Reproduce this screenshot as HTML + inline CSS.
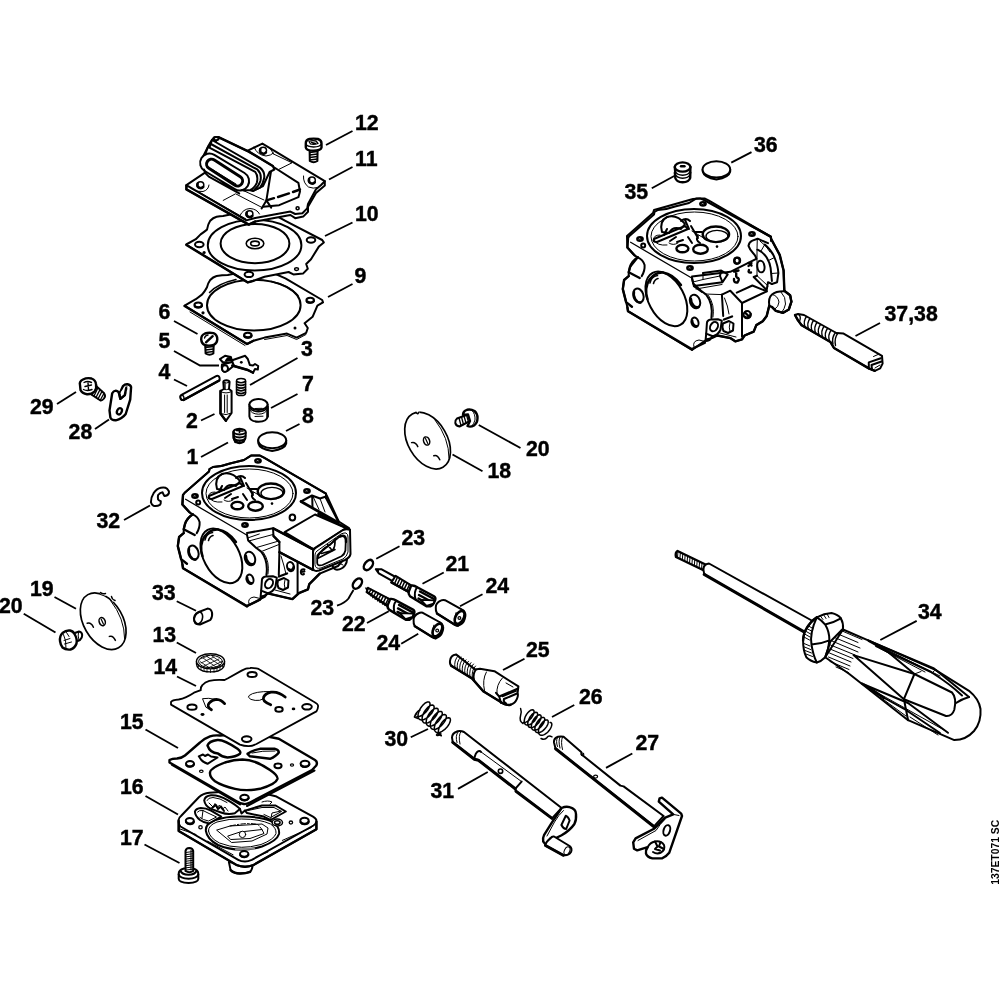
<!DOCTYPE html>
<html>
<head>
<meta charset="utf-8">
<title>Carburetor exploded view</title>
<style>
html,body{margin:0;padding:0;background:#fff;}
body{width:1000px;height:1000px;overflow:hidden;font-family:"Liberation Sans",sans-serif;}
svg{display:block;will-change:transform;}
.lb text{font-family:"Liberation Sans",sans-serif;font-weight:bold;font-size:22.4px;fill:#000;stroke:#000;stroke-width:.45px;}
.ld{stroke:#000;stroke-width:1.9;fill:none;stroke-linecap:butt;}
.p{stroke:#000;stroke-width:2;fill:#fff;stroke-linejoin:round;stroke-linecap:round;}
.n{stroke:#000;stroke-width:2;fill:none;stroke-linejoin:round;stroke-linecap:round;}
.t{stroke:#000;stroke-width:1;fill:none;stroke-linejoin:round;stroke-linecap:round;}
.tp{stroke:#000;stroke-width:1;fill:#fff;stroke-linejoin:round;stroke-linecap:round;}
.k{stroke:#000;stroke-width:2.4;fill:none;stroke-linejoin:round;stroke-linecap:round;}
.kp{stroke:#000;stroke-width:2.4;fill:#fff;stroke-linejoin:round;stroke-linecap:round;}
.b{fill:#000;stroke:none;}
.w{fill:#fff;stroke:none;}
</style>
</head>
<body>
<svg width="1000" height="1000" viewBox="0 0 1000 1000">
<rect x="0" y="0" width="1000" height="1000" fill="#fff"/>
<g id="a09">
<!-- part 9 gasket -->
<path class="p" d="M184.6 305.6L195.8 299.2L202.2 294.4Q205 291 207 287.2Q208 283 210.2 280Q213 277 216.6 276Q222 275 227.8 274.9L262 268L285.4 278.4L322.2 300L323 302.4L317.4 305.6L312.6 316.8L304.6 323.2L307.8 328L306.2 332.8L296.6 337.6L287 333.6L264.6 337.6L253.4 340.8L247 344Z"/>
<path class="k" d="M184.6 306L247 344L253.4 340.8"/>
<path class="t" d="M190 312L245 345.5M264.6 339.5L287 335.5L296.6 339.5L306 334.5M317.4 305.6L322 303"/>
<ellipse class="p" cx="253.8" cy="305.2" rx="46.8" ry="25.4"/>
<path class="n" style="stroke-width:1.5" d="M209.5 292.5Q218 283.5 236 279.5"/>
<path class="n" style="stroke-width:1.5" d="M271 281.5Q289 285 298 295.5"/>
<ellipse class="p" cx="198.2" cy="305.1" rx="3.8" ry="2.5"/><path class="k" d="M195 306.2A3.8 2.5 0 0 0 201.8 305.8"/>
<ellipse class="p" cx="310.2" cy="300.3" rx="3.8" ry="2.5"/><path class="k" d="M307 301.4A3.8 2.5 0 0 0 313.8 301"/>
<ellipse class="p" cx="247.8" cy="335.2" rx="3.8" ry="2.5"/><path class="k" d="M244.6 336.3A3.8 2.5 0 0 0 251.4 335.9"/>
<circle class="b" cx="203" cy="312.8" r="1.6"/>
<circle class="b" cx="295" cy="328" r="1.5"/>
</g>
<g id="a10">
<!-- part 10 diaphragm -->
<path class="p" d="M186.2 244.5L195.8 239.2L200.6 234.4Q204 232 207 229.6Q208 224 210.2 220.8Q213 217.8 216.6 216.8Q220 216 223 216L262 208L285.4 220.8L322.2 240L323.8 242.4L319 246.4L311 259.2L306.2 264L307.8 268.8L303 273.6L293.4 274.4L288.6 272L264.6 276.8L253.4 280.8L247.8 282.4Z"/>
<path class="k" d="M186.4 245L247.8 282.4L253.4 280.8"/>
<ellipse class="p" cx="254.6" cy="245.2" rx="46.8" ry="25.4"/>
<ellipse class="p" cx="255" cy="243.6" rx="34.4" ry="19.6"/>
<ellipse class="p" style="stroke-width:1.6" cx="255" cy="243.5" rx="8.8" ry="5.3"/>
<ellipse class="p" style="stroke-width:1.6" cx="255" cy="243.5" rx="4.3" ry="2.4"/>
<ellipse class="p" cx="199.3" cy="244.5" rx="4.3" ry="2.7"/>
<ellipse class="p" cx="311" cy="240" rx="4.3" ry="2.7"/>
<ellipse class="p" cx="248.9" cy="274.4" rx="4.3" ry="2.7"/>
<circle class="b" cx="204.1" cy="252.5" r="1.6"/>
<ellipse class="n" style="stroke-width:1.4" cx="296.6" cy="269.1" rx="2" ry="1.4"/>
</g>
<g id="a11">
<!-- part 11 pump cover -->
<!-- plate side (thickness) -->
<path class="p" d="M186.4 185.2L186.4 189.4L248.8 224.6L255.5 221.4L290.4 215L295.2 218.2L303.2 216.6L308 211.8L308 206.8L316 193L324.8 185.4L324.8 181.2Z"/>
<!-- plate top face -->
<path class="p" d="M186.4 185.2L205 172.6L248.8 150.2L262.4 143.6L324.8 181.2L320.8 185.2L316 189.2L308 204L307.2 208.4L302.4 213.2L295.2 214L290.4 211.6L255.2 218L246.4 220.4Z"/>
<path class="k" d="M186.4 185.6L186.4 189.4L248.8 224.6L255.5 221.4"/>
<!-- thin contour lines -->
<path class="t" d="M200.8 193.2L246 219M223.2 200.4L235.2 194M236 194L262 207.5"/>
<path class="t" d="M273.6 154L292 162.8L279.2 169.2M269.6 147.6L273.6 154"/>
<!-- raised centre -->
<path class="n" d="M272.8 166.5L298.4 182.8L300 191.6L298.4 197.2L279.2 205.2L263.2 206.8"/>
<path class="n" d="M271.2 170L266.4 200.4M266.4 200.4L261.6 208.4M266.4 200.4L271.2 207.6"/>
<path class="k" d="M266.4 200.4L274 198.2M278 197L289 193.4M293 192L300 189.5" />
<!-- bellows ribs (back to front) -->
<path class="p" d="M218.4 137.2L248.8 151.6L272.8 166L274.4 169.5L269.6 172L263 186L253 191L230 185L205 160Z"/>
<path class="k" d="M214.4 137.7L218.4 137.2L248.8 151.6L272.8 166"/>
<ellipse class="p" cx="216" cy="138.6" rx="2.6" ry="1.6"/>
<path class="p" d="M212 140L260 167.6Q265.5 172 264 178.8Q263 184 260 187.6L253.6 190.5L230 185L206 158Z"/>
<path class="p" d="M208 146.8L255.2 171.9Q258.5 176 256.8 182.8Q254.5 188 250.4 190L244 190.5L225 185L203 160Z"/>
<path class="n" d="M210 143.5L257.6 169.7Q262 174 260.4 181Q258.5 186.5 255 189"/>
<path class="n" d="M202.6 157.4L208 146.6L212 139.8L214.4 137.7"/>
<!-- front lip -->
<rect class="p" x="-27" y="-9.4" width="54" height="18.8" rx="9.4" transform="translate(224.6 172) rotate(31)"/>
<rect class="p" style="stroke-width:3" x="-20.5" y="-5" width="41" height="10" rx="5" transform="translate(224.6 172.6) rotate(33)"/>
<path class="t" d="M213 170L236 184"/>
<!-- pump base under lip -->
<path class="n" d="M204 169.5L205.6 173.4L208.8 176.6L239.2 193.4"/>
<path class="t" d="M241 189.5L264 200"/>
<!-- holes -->
<circle class="n" style="stroke-width:1.5" cx="200.5" cy="185" r="3.3"/><path class="k" style="stroke-width:2.6" d="M197.6 183.6A3.3 3.3 0 0 0 203.2 186.9"/>
<circle class="n" style="stroke-width:1.5" cx="263.2" cy="150.6" r="3.3"/><path class="k" style="stroke-width:2.6" d="M260.3 149.2A3.3 3.3 0 0 0 265.9 152.5"/>
<circle class="n" style="stroke-width:1.5" cx="312" cy="180.4" r="3.3"/><path class="k" style="stroke-width:2.6" d="M309.1 179A3.3 3.3 0 0 0 314.7 182.3"/>
<circle class="n" style="stroke-width:1.5" cx="249.6" cy="214" r="3.3"/><path class="k" style="stroke-width:2.6" d="M246.7 212.6A3.3 3.3 0 0 0 252.3 215.9"/>
<circle class="n" style="stroke-width:1.6" cx="297.6" cy="208.2" r="1.5"/>
<path class="t" d="M191 188.5Q196 192.5 203 191.5Q208.5 190 209 185M240 215.5Q243 209 250 208.5Q257 209 259.5 214M303.5 176Q303 183 308.5 187Q313 189 318 187.5M254 147Q257 155 266 156Q271 155.5 273.5 153"/>
</g>
<g id="b_body">
<!-- rear/right lower body silhouette -->
<path class="p" d="M247 606L259.9 599.7L267.7 593.4L292.4 599.1L298.9 593.2L308 589.3L309.3 584.1L319.7 573.7L338 566L350 552L349 528L338 521L326 498L326 493.6L264 457.6L260 455.6L251 455.6L244 460Q238 461.5 230 463.5Q222 466.5 213 467L209.5 469L209 471.5L185 492.4L183 495L182.4 504.5L189.5 512.3L192.8 514.3Q187 518 185 524L183.7 529.2L183.7 533.1L179.1 537L177.8 546.1L181.1 559.1L182.4 564.3L183 568.2Z"/>
<g id="bc">
<!-- top flange outline (common) -->
<path class="n" d="M183 495L185 492.4L209 471.5L209.5 469L213 467Q222 466.5 230 463.5Q238 461.5 244 460L251 455.6L260 455.6L264 457.6L326 493.6L326 498"/>
<path class="n" style="stroke-width:1.3" d="M185.6 499.3L246.7 535"/>
<!-- chamber ellipses -->
<ellipse class="p" cx="249" cy="493" rx="47" ry="27"/>
<ellipse class="tp" cx="249.5" cy="493.5" rx="43.5" ry="24.5"/>
<!-- chamber details -->
<ellipse class="kp" cx="270.9" cy="491.3" rx="13.2" ry="7.8"/>
<ellipse class="t" style="stroke-width:1.4" cx="272" cy="493.2" rx="11" ry="5.8"/>
<ellipse class="kp" cx="237.4" cy="505.6" rx="6" ry="3.7"/>
<ellipse class="kp" cx="255.5" cy="506.2" rx="7.3" ry="4.5"/>
<circle class="b" cx="272" cy="503.6" r="1.3"/>
<path class="n" d="M217 489Q214 478 222 474Q232 471 240 481L236 486Q228 483 224 490Z"/>
<path class="n" d="M209 496L240 483M212 499L243 486M209 496Q207 499 212 499M240 483L243 486"/>
<path class="n" d="M240 477L244 486M236 478Q241 474 245 478M246 483L253 495M250 489L257 489M222 486L219 492M225 498L231 494M232 499L238 497M243 494L247 500M253 493Q250 497 255 500"/>
<path class="t" d="M215 492Q208 492 209 497Q212 503 222 502M224 500Q228 503 233 500M247 488L262 497"/>
<!-- screw holes on flange -->
<ellipse class="b" cx="195" cy="496" rx="3.9" ry="2.9"/><path d="M193.7 496.2q.9 -.9 1.8 -.1" stroke="#fff" stroke-width=".7" fill="none"/>
<ellipse class="b" cx="258" cy="460.8" rx="3.9" ry="2.9"/><path d="M256.7 461.0q.9 -.9 1.8 -.1" stroke="#fff" stroke-width=".7" fill="none"/>
<ellipse class="b" cx="307" cy="491" rx="3.9" ry="2.9"/><path d="M305.7 491.2q.9 -.9 1.8 -.1" stroke="#fff" stroke-width=".7" fill="none"/>
<ellipse class="b" cx="245" cy="525" rx="3.9" ry="2.9"/><path d="M243.7 525.2q.9 -.9 1.8 -.1" stroke="#fff" stroke-width=".7" fill="none"/>
<ellipse class="n" cx="292.4" cy="517.6" rx="2.8" ry="3"/>
<circle class="n" cx="198.2" cy="502.6" r="2"/>
<!-- front face bore -->
<path class="k" d="M183 495L182.4 504.5L189.5 512.3M192.8 514.3Q187 518 185 524L183.7 529.2L194.7 535M183.7 533.1L179.1 537L177.8 546.1L181.1 559.1L186.9 563.7M182.4 564.3L183 568.2L247 606.4"/>
<path class="n" d="M192.8 514.3Q198 516.5 199.6 522Q200 528 196.7 533.1"/>
<ellipse class="p" cx="0" cy="0" rx="29.5" ry="17.8" transform="translate(221.4 555.9) rotate(62)"/>
<path class="k" d="M202.5 556Q199 545 204.5 536.5Q210 529 218 529.5Q228 531 236 542"/>
<path class="n" style="stroke-width:1.6" d="M205 540Q206 533.5 212.5 532.5M208.5 540.5Q209.5 536.5 213 535.5"/>
<ellipse class="p" cx="193.4" cy="552.6" rx="5" ry="7.2" transform="rotate(-18 193.4 552.6)"/><path class="k" d="M189 549A5 7.2 -18 0 0 195.5 559.5"/>
<ellipse class="p" cx="250" cy="558.5" rx="5" ry="7" transform="rotate(-18 250 558.5)"/><path class="k" d="M246 556A5 7 -18 0 0 253.5 564"/>
<ellipse class="p" cx="250" cy="579.3" rx="3.4" ry="4.8" transform="rotate(-18 250 579.3)"/><path class="k" d="M247.2 577.5A3.4 4.8 -18 0 0 252 583.2"/>
<!-- right-front common details -->
<path class="n" d="M247 534.7L248.2 540.6L256 547.7L261.2 551.6Q268.5 561 266.4 575"/>
<path class="t" d="M263.5 552.5Q270 562 268 574"/>
<!-- lug -->
<path class="p" d="M261.9 580.2Q262 577 266 576.5L272.9 576.3L276.8 577.6L275.5 586.7Q273 592 267.7 593.2L261.2 590.6Z"/>
<ellipse class="p" cx="269" cy="583.6" rx="3.6" ry="5" transform="rotate(30 269 583.6)"/>
<path class="n" d="M261.2 590.6L260.5 598L264.5 597L267.7 593.2"/>
<path class="b" d="M261 595.5L265 594.5L264.5 598L260.7 599Z"/>
<!-- pin -->
<path class="p" d="M278 580.5L284 578L288.5 580.5L288 587.5L283 590L278.5 588Q276.5 584 278 580.5Z"/>
<path class="t" d="M285 579.5Q283.5 584 285 589"/>
<path class="k" d="M279 576.5L287 573.5"/>
<path class="k" d="M247 606L259.9 599.7"/>
<path class="t" d="M249 604Q247 598 254 597L260 598.5"/>
</g>
<!-- triangular pocket & box -->
<path class="n" d="M301 501.5L312 495.5L320 498.5L326 496.5M312.2 496L312.5 507.5"/>
<path class="t" d="M320 498.5L325 512M313 496.5L319 509.5"/>
<path class="k" style="stroke-width:2.8" d="M301 501.5L338 522.5"/>
<path class="n" d="M326.5 495L338.5 521"/>
<path class="p" d="M284.6 532.1L315 514.5L346 528L313.2 549Z"/>
<path class="t" d="M284 534.5L312 551"/>
<path class="p" d="M273 528.2L273.5 536L279.4 542L279.4 552L313.2 570L313.2 549.5Z"/>
<path class="k" d="M273.2 528.4L313.2 549.4M279.4 552.3L313.2 570M273.5 536L279.4 542"/>
<path class="k" d="M318.4 513.9L349.6 529.5"/>
<path class="n" d="M332.5 565.5Q333.5 569.5 337 569.8Q342 569.5 345 565.5Q347 562.5 347 559.5"/>
<path class="t" d="M340 563.5L343 565"/>
<path class="p" d="M313 552Q313 549.5 315.5 548L343 530Q346.5 528.5 350 529.8L350.5 554Q350 557.5 345 560L319 570.5Q313.5 572 313 568Z"/>
<path class="tp" d="M315 554.5Q315 552.5 317 551L341 534Q344.5 532.5 346 533Q348 534 348 537L348 552Q347 556.5 343 559L321 568Q315.5 569.5 315 565Z"/>
<path class="n" style="stroke-width:1.8" d="M317.2 557.5Q317 555 319 553.5L339 537Q342.5 535.5 344.5 536.8Q345.8 538 345.8 540.5L345.4 550.5Q344.5 554.5 341.5 556.3L322.5 565Q317.5 566.5 317.2 563Z"/>
<path class="k" d="M339.5 536.6Q343 535 345 536.6Q346.3 538.2 346 542"/>
<path class="n" style="stroke-width:1.6" d="M318 556.5Q321 549 330 545L336 538.5M321.5 553.5L332 550.5M327.5 544.5L332.5 551Q335.5 546 335 540.5M317.5 558.5L335 549.5"/>
<!-- right-front main-specific -->
<path class="n" d="M247 533L272 528.5"/>
<path class="t" d="M248.2 537.8L259.3 534M248.8 541L273 534.5M256 547.7L278.1 541.2M261.2 551.6L279 544.5"/>
<path class="n" d="M279.4 552.3L278.8 575M297.6 562L297.6 593.2"/>
<path class="t" d="M281 556Q284 565 286 574"/>
<ellipse class="p" cx="290.5" cy="566.6" rx="3.4" ry="4.6" transform="rotate(-15 290.5 566.6)"/><path class="k" d="M288.5 569A3.4 4.6 -15 0 0 293.6 567"/>
<path class="n" d="M304.5 569.5Q301 568.5 300.8 572Q301 575.5 304 574M301 572L304.5 571.5"/>
<path class="k" d="M267.7 593.4L292.4 599.1L298.9 593.2L308 589.3L309.3 584.1L319.7 573.7"/>
<path class="t" d="M275 590L290 594"/>
</g>
<g id="c_body2">
<!-- second body silhouette -->
<path class="p" d="M692 350L706 340L712.1 338.1L717.3 335.5L730.3 338.1L735.5 341.4L742 339.4L744.6 335.5L753.7 331.6L756.3 325.1L762.8 321.2L766.7 316L769.3 305.6L771.9 306.9L775.8 310.8L783 312.8L788.8 309.5L791.4 301.7L790.1 295.2L784.9 291.3L784.3 290L783.6 270.5L779.7 254.9L771.3 239.3L770.6 236.7L704 200L700 198.4L693 199L654 210L653 213L627 236L627.4 247.5L634.5 255.3L637.8 257.3L630.0 267.0L628.7 272.2L628.7 276.1L624.1 280.0L622.8 289.1L626.1 302.1L627.4 307.3L628.0 311.2Z"/>
<g transform="translate(445 -257)">
<!-- top flange outline (common) -->
<path class="n" d="M183 495L185 492.4L209 471.5L209.5 469L213 467Q222 466.5 230 463.5Q238 461.5 244 460L251 455.6L260 455.6L264 457.6L326 493.6L326 498"/>
<path class="n" style="stroke-width:1.3" d="M185.6 499.3L246.7 535"/>
<!-- chamber ellipses -->
<ellipse class="p" cx="249" cy="493" rx="47" ry="27"/>
<ellipse class="tp" cx="249.5" cy="493.5" rx="43.5" ry="24.5"/>
<!-- chamber details -->
<ellipse class="kp" cx="270.9" cy="491.3" rx="13.2" ry="7.8"/>
<ellipse class="t" style="stroke-width:1.4" cx="272" cy="493.2" rx="11" ry="5.8"/>
<ellipse class="kp" cx="237.4" cy="505.6" rx="6" ry="3.7"/>
<ellipse class="kp" cx="255.5" cy="506.2" rx="7.3" ry="4.5"/>
<circle class="b" cx="272" cy="503.6" r="1.3"/>
<path class="n" d="M217 489Q214 478 222 474Q232 471 240 481L236 486Q228 483 224 490Z"/>
<path class="n" d="M209 496L240 483M212 499L243 486M209 496Q207 499 212 499M240 483L243 486"/>
<path class="n" d="M240 477L244 486M236 478Q241 474 245 478M246 483L253 495M250 489L257 489M222 486L219 492M225 498L231 494M232 499L238 497M243 494L247 500M253 493Q250 497 255 500"/>
<path class="t" d="M215 492Q208 492 209 497Q212 503 222 502M224 500Q228 503 233 500M247 488L262 497"/>
<!-- screw holes on flange -->
<ellipse class="b" cx="195" cy="496" rx="3.9" ry="2.9"/><path d="M193.7 496.2q.9 -.9 1.8 -.1" stroke="#fff" stroke-width=".7" fill="none"/>
<ellipse class="b" cx="258" cy="460.8" rx="3.9" ry="2.9"/><path d="M256.7 461.0q.9 -.9 1.8 -.1" stroke="#fff" stroke-width=".7" fill="none"/>
<ellipse class="b" cx="307" cy="491" rx="3.9" ry="2.9"/><path d="M305.7 491.2q.9 -.9 1.8 -.1" stroke="#fff" stroke-width=".7" fill="none"/>
<ellipse class="b" cx="245" cy="525" rx="3.9" ry="2.9"/><path d="M243.7 525.2q.9 -.9 1.8 -.1" stroke="#fff" stroke-width=".7" fill="none"/>
<ellipse class="n" cx="292.4" cy="517.6" rx="2.8" ry="3"/>
<circle class="n" cx="198.2" cy="502.6" r="2"/>
<!-- front face bore -->
<path class="k" d="M183 495L182.4 504.5L189.5 512.3M192.8 514.3Q187 518 185 524L183.7 529.2L194.7 535M183.7 533.1L179.1 537L177.8 546.1L181.1 559.1L186.9 563.7M182.4 564.3L183 568.2L247 606.4"/>
<path class="n" d="M192.8 514.3Q198 516.5 199.6 522Q200 528 196.7 533.1"/>
<ellipse class="p" cx="0" cy="0" rx="29.5" ry="17.8" transform="translate(221.4 555.9) rotate(62)"/>
<path class="k" d="M202.5 556Q199 545 204.5 536.5Q210 529 218 529.5Q228 531 236 542"/>
<path class="n" style="stroke-width:1.6" d="M205 540Q206 533.5 212.5 532.5M208.5 540.5Q209.5 536.5 213 535.5"/>
<ellipse class="p" cx="193.4" cy="552.6" rx="5" ry="7.2" transform="rotate(-18 193.4 552.6)"/><path class="k" d="M189 549A5 7.2 -18 0 0 195.5 559.5"/>
<ellipse class="p" cx="250" cy="558.5" rx="5" ry="7" transform="rotate(-18 250 558.5)"/><path class="k" d="M246 556A5 7 -18 0 0 253.5 564"/>
<ellipse class="p" cx="250" cy="579.3" rx="3.4" ry="4.8" transform="rotate(-18 250 579.3)"/><path class="k" d="M247.2 577.5A3.4 4.8 -18 0 0 252 583.2"/>
<!-- right-front common details -->
<path class="n" d="M247 534.7L248.2 540.6L256 547.7L261.2 551.6Q268.5 561 266.4 575"/>
<path class="t" d="M263.5 552.5Q270 562 268 574"/>
<!-- lug -->
<path class="p" d="M261.9 580.2Q262 577 266 576.5L272.9 576.3L276.8 577.6L275.5 586.7Q273 592 267.7 593.2L261.2 590.6Z"/>
<ellipse class="p" cx="269" cy="583.6" rx="3.6" ry="5" transform="rotate(30 269 583.6)"/>
<path class="n" d="M261.2 590.6L260.5 598L264.5 597L267.7 593.2"/>
<path class="b" d="M261 595.5L265 594.5L264.5 598L260.7 599Z"/>
<!-- pin -->
<path class="p" d="M278 580.5L284 578L288.5 580.5L288 587.5L283 590L278.5 588Q276.5 584 278 580.5Z"/>
<path class="t" d="M285 579.5Q283.5 584 285 589"/>
<path class="k" d="M279 576.5L287 573.5"/>
<path class="k" d="M247 606L259.9 599.7"/>
<path class="t" d="M249 604Q247 598 254 597L260 598.5"/>
</g>
<!-- second body specific -->
<path class="n" d="M692 276.5L730.3 271.8L756.3 258.8"/>
<path class="k" d="M749.8 225L770.6 236.7L771.3 239.3L779.7 254.9L783.6 270.5L784.3 290"/>
<!-- pocket and arch -->
<path class="n" d="M748.5 245.8Q749 242 752.4 240.6L757.6 238.7L768 243.2M748.5 245.8Q750 250 753 253Q756 256 756.3 258.5"/>
<path class="n" d="M764.8 244.5Q771.5 250 774.5 257.5Q778 266 778.4 273.1L777.1 282.2L771.9 284"/>
<path class="n" d="M757.6 249.7Q763.5 252.5 766.7 257.5Q770 263 770.6 267.9L771.9 280.9"/>
<path class="t" d="M757.3 239L757 249.7M764.8 244.5L761 251M774.5 257.5L768.5 260.5M778 273L771.5 273.5M757 249.7L757 275.7M760 241Q767 246 770 252"/>
<ellipse class="p" cx="760.9" cy="266.6" rx="3.6" ry="5.8" transform="rotate(-8 760.9 266.6)"/>
<path class="n" d="M757 275.7L753.7 277L766.7 290L768 282.2L771.9 284"/>
<path class="t" d="M757 275.7L768 286"/>
<ellipse class="n" cx="736.8" cy="260.8" rx="2.8" ry="3.1"/>
<!-- c-marks -->
<path class="k" d="M734 271.5L738.5 270.5M736.2 271L736.2 276.5M734 279Q733.5 283 737.5 282.5M737 277.5Q740 278.5 738 281.5"/>
<path class="k" d="M748.5 263L751.5 265.5M751.5 263L748.5 266M749 270Q747.5 273 751 272.5"/>
<!-- steps / boss -->
<path class="n" d="M692 278.5L693.9 286.1L702 292"/>
<path class="n" d="M703 273.1L721.2 270.5L727.7 274.4L722.5 282.2L693.9 286.1M721.2 270.5L720 276L722.5 282.2"/>
<path class="t" d="M693 282L703 279.5L720 276M696 289L722 284.5M703 273.1L703 279.5"/>
<!-- block -->
<path class="n" d="M721.9 294.6L730.3 290.7L742 303L766.7 291.3M742 303L742 336.8M721.9 294.6L723.2 316"/>
<path class="n" d="M736.8 292.6L752.4 285.5L766.7 291.3"/>
<path class="t" d="M724.5 298Q728 306 729 314M705 294L721.9 294.6"/>
<circle class="n" cx="747.2" cy="314.7" r="3.6"/><path class="k" d="M745 312.5L749.5 317M744.8 316.8A3.6 3.6 0 0 0 750.6 314"/>
<!-- knob -->
<path class="p" d="M769.3 305.6Q768 298 772 294.5Q776 291 784.9 291.3L790.1 295.2L791.4 301.7L788.8 309.5L783 312.8L775.8 310.8L771.9 306.9Z"/>
<path class="k" d="M784.9 291.3L790.1 295.2L791.4 301.7L788.8 309.5L783 312.8L775.8 310.8L771.9 306.9"/>
<path class="t" d="M772.5 294.5Q778 296 779 302Q778.5 307 775 309M781 292Q786 297 785.5 304Q784.5 309 782 312"/>
<!-- bottom -->
<path class="k" d="M712.7 336.4L717.3 335.5L730.3 338.1L735.5 341.4L742 339.4L744.6 335.5L753.7 331.6L756.3 325.1L762.8 321.2L766.7 316L769.3 305.6"/>
<path class="t" d="M720 333L736 337"/>
</g>
<g id="d34">
<!-- 34 screwdriver -->
<!-- threaded tip -->
<path class="kp" d="M677.5 551Q675 552.5 676 557L703 570L705.5 564.5Z"/>
<path class="t" d="M678 551L677.5 557.5M680.4 552.2L679.9 558.7M682.8 553.4L682.3 559.9M685.2 554.6L684.7 561.1M687.6 555.8L687.1 562.3M690 557L689.5 563.5M692.4 558.2L691.9 564.7M694.8 559.4L694.3 565.9M697.2 560.6L696.7 567.1M699.6 561.8L699.1 568.3M702 563L701.5 569.5"/>
<!-- shaft -->
<path class="p" d="M709 563.5Q703 564.5 703.5 570Q703.5 573.5 705.5 575L805 632.5L813.5 621.5Z"/>
<path class="k" style="stroke-width:3" d="M704.2 574.4L805 632.4"/>
<!-- handle body -->
<path class="p" d="M843 629.5L868.2 640.4L935.4 669.8L969 690.8Q979 699 980.5 709Q981.5 722 974 731Q966 740 954.3 740.1L908.1 720.2L849.3 674L825.2 657.2Z"/>
<!-- collar -->
<path class="p" d="M803.1 640.4Q803.5 633 806.3 628.8Q810.5 621.5 816.8 617.3Q824 613.5 831.5 613.1Q838 614.5 840.9 618.4Q843.5 623 843 628.8L830.4 641.5L825.2 657.2Q821 661.5 816.8 662.5Q810 661 806.3 657.2Q803 650 803.1 640.4Z"/>
<path class="n" d="M816.8 617.3Q821.5 620 825.2 624.6Q833 623 840.9 618.4M825.2 624.6Q829.5 632 829.4 640.4Q828.5 650 825.2 657.2M811.5 644.6Q821 644 829.4 640.4M811.5 644.6Q813 655 816.8 662.5M811.5 644.6Q809.5 633 816.8 617.3"/>
<path class="t" d="M804 637L809.5 640M804.6 634L810 637M805.4 631L810.6 634M806.6 628.5L811.5 631M808.5 626L813 628.5M804 643.5L810 646M804.5 647L810.6 649.5M805 650.5L811.5 653M806 654L812.5 656.5M820 615.5L823 619.5M823.5 614.5L826 618.5M827 613.8L829 617.5"/>
<path class="k" d="M803.1 640.4Q803.5 633 806.3 628.8Q810.5 621.5 816.8 617.3"/>
<!-- fluted cone -->
<path class="t" d="M838 634L858 642.5M834.5 637.5L860 648M832 641L858 652M830.5 645L855 655M830 649L853 658.5M829.5 653L851 662M828.5 657L850 666M830 661.5L849 669.5M836 667L848.5 672.5M841 630.5L862 639.5"/>
<!-- facets -->
<path class="n" d="M853.5 655.1L914.4 674L903.9 699.2Z"/>
<path class="t" d="M914.4 674L921 671.5"/>
<!-- upper long flutes -->
<path class="n" d="M868.2 640.4L934 668.5L969 697M876 646L931 672Q950 684 962 695.5M889.2 653L914.4 674"/>
<path class="t" d="M872 642.5L940 676M880 648.5L925 672M935.4 669.8L932 673"/>
<path class="k" d="M869 641Q882 648 893 655"/>
<!-- inner slot -->
<path class="n" d="M914.4 674L952 692.5Q957 698 954.3 709.7Q952 716.5 946 716L903.9 699.2"/>
<!-- lower flutes -->
<path class="n" d="M864 684.5L908 703L948 732.8M870 690L906 710L940 733M903.9 699.2L908.1 720.2"/>
<path class="t" d="M868 687.5L912 712L944 730M880 697L906 716M910 717L938 735"/>
<path class="k" d="M862 683.5Q874 690 884 698"/>
<path class="n" d="M969 697Q962 699 956 703"/>
</g>
<g id="e1_16">
<!-- 16 cover -->
<!-- foot -->
<path class="p" d="M228.9 862L230.6 870.1Q234 873.5 239.9 873.5Q246 873.5 250.1 871.8Q252.5 869.5 252.7 864Z"/>
<path class="k" d="M230.6 870.1Q234 873.5 239.9 873.5Q246 873.5 250.1 871.8"/>
<!-- side -->
<path class="p" d="M178.7 820L178.7 831L236.5 865Q241 866.8 245 866.7Q249 866.8 253.5 865L316.4 829.3L316.4 821.7Z"/>
<!-- top face -->
<path class="p" d="M178.7 820Q178.5 818 181 816L199.1 797Q203 793.5 209.3 792.8L250 790L275.6 796.2L313 816.6Q317 819 316.4 821.7Q316 824 313.5 825.5L251.8 859.9Q248 861.6 245 861.6Q241 861.5 238.2 859.9L180.5 826.5Q178.5 825 178.7 820Z"/>
<path class="k" d="M178.7 821L178.7 831L236.5 865Q241 866.8 245 866.7Q249 866.8 253.5 865L316.4 829.3L316.4 822"/>
<!-- thin lines -->
<path class="t" d="M282.4 840.4L311.3 827.6M207.6 841.2L233.1 854.8M180 829L196 834.5M256 857L268 852"/>
<!-- main chamber oval -->
<path class="p" d="M205.9 831Q205 824 215 820Q228 816 241.6 816.6Q262 816.5 273 822Q280 827 279 834Q277 841 262 846.5Q250 850 241.6 849.7Q228 849.5 218 845Q207 839 205.9 831Z"/>
<path class="t" d="M208.5 831Q208 825.5 217 822Q229 818.5 241.6 819Q260 819 270.5 824Q276.5 828 276 833.5Q274 839.5 261 844.5Q250 847.5 241.6 847.3Q229 847 219.5 843Q209.5 838 208.5 831Z"/>
<path class="t" d="M217 830L230 826L262 824L268 828L267 834L252 841L232 842.5Z"/>
<path class="t" d="M228 836L240 832L262 829.5L264 833.5L250 838.5L231 839.5Z"/>
<path class="t" style="stroke-dasharray:5 2 1.5 2" d="M230 826Q248 822 258 824.5L262 829.5"/>
<circle class="tp" cx="242.5" cy="834.4" r="3.2"/>
<path class="k" style="stroke:#888;stroke-width:2" d="M236 849.5L254 848.5"/>
<!-- upper-left chamber -->
<path class="p" d="M204.2 800.4Q205 796 211 795.3Q219 795 228 800.4Q236 805 239.9 808.9L234.8 813.2Q228 815 221 812.5Q214 810 211 808.9Q205 806 204.2 800.4Z"/>
<path class="t" d="M207 800.5Q208 797.5 213 797.5Q220 798 227 802.5M209 803L213 807L215 803.5L217 808L219.5 805L222 809.5L225 807L228 811"/>
<path class="n" d="M212 808L216 805L218 809L221 806.5L224 811"/>
<!-- left pocket -->
<path class="p" d="M194.9 811.5Q196 808.5 200.8 808Q206 808 211 810.6L221.2 816.6L209.3 823.4Q204 823 200 820Q195 816 194.9 811.5Z"/>
<path class="t" d="M197.5 812Q199 810 203 810.5L208 813L216.5 817L208.5 821Q203 820 200 817.5M203 810.5L202 818"/>
<!-- upper-right pocket -->
<path class="p" d="M245 810.6L262 805.5L275.6 805.5L285.8 811.5L270.5 820L263.7 816.6L247 813Z"/>
<path class="t" d="M248 810.5L262 807.5L274 807.5L281.5 811.5L270.5 817.5L264 814.5M270.5 820L272 813L281 811"/>
<path class="n" d="M239.9 808.9L241.5 813.5L245 810.6"/>
<path class="t" d="M262 802Q268 800 272 802L270 804"/>
<!-- holes -->
<ellipse class="p" cx="189.8" cy="820.8" rx="4" ry="2.9"/><path class="k" d="M186.2 822.2A4 2.9 0 0 0 193.8 821.8"/>
<ellipse class="p" cx="304.5" cy="820.8" rx="4.2" ry="3"/><path class="k" d="M300.6 822.2A4.2 3 0 0 0 308.6 821.8"/>
<ellipse class="p" cx="244.2" cy="854" rx="4.2" ry="2.9"/><path class="k" d="M240.4 855.3A4.2 2.9 0 0 0 248.2 855"/>
<ellipse class="p" style="stroke-width:1.5" cx="277.3" cy="822.5" rx="5.2" ry="3.5"/><ellipse class="p" style="stroke-width:1.5" cx="277.3" cy="822.5" rx="2.8" ry="1.8"/>
<ellipse class="n" style="stroke-width:1.3" cx="290.9" cy="822.5" rx="1.7" ry="1.5"/>
<ellipse class="n" style="stroke-width:1.3" cx="200.5" cy="827.3" rx="1.7" ry="1.6"/>
</g>
<g id="e2_15">
<!-- 15 gasket -->
<path class="kp" d="M169.5 760Q172 758.5 177 758.5Q182 758 185 755.5L200 742.5Q204 738.5 210 736.3Q214 735 220 735.5L250 733L278.8 738.8L315 760Q318 762 316.3 765.5L312 770L250 802.5Q246 804.5 243.8 804Q240 803.5 237 801.5L169.5 762.5Z"/>
<path class="n" d="M172 765L240 804.5M247 806L314.5 770.5"/>
<!-- centre opening -->
<path class="kp" d="M210 772.5Q210.5 768 225 762.5Q234 759.5 242.5 759.5Q256 760 270 770Q278 775.5 277.5 778.8Q276 784 260 788.8Q246 791.5 235 788.8Q222 786 215 781.3Q209.5 777 210 772.5Z"/>
<!-- upper-left opening -->
<path class="kp" d="M207.5 745.5Q209 741 217.5 740Q224 739.5 237.5 748.8Q241.5 752 240 753.8Q236 757 227.5 757.5Q222 757 218 753.5Q210 753 207.5 745.5Z"/>
<!-- upper-right opening -->
<path class="kp" d="M247.5 753.8Q252 750.5 260 748.8L275 748.8Q279 750 278.8 752.5Q276 756.5 270 758.8L250 756.3Z"/>
<path class="t" d="M252 753Q262 750.5 275 751"/>
<!-- left small opening -->
<path class="p" d="M198.8 756.3L203 754.5L205 756L208 754.5L211 756.5L217.5 757.5L207.5 763.8Q203 762 201.3 760Z"/>
<ellipse class="p" cx="190" cy="763.8" rx="4" ry="2.8"/><path class="k" d="M186.5 765.2A4 2.8 0 0 0 193.8 764.6"/>
<ellipse class="p" cx="305" cy="763.8" rx="4.4" ry="3"/><path class="k" d="M301.2 765.4A4.4 3 0 0 0 309.2 764.6"/>
<ellipse class="p" cx="244.5" cy="797.5" rx="4.2" ry="2.8"/><path class="k" d="M240.8 798.8A4.2 2.8 0 0 0 248.5 798.3"/>
<ellipse class="p" cx="278" cy="765.8" rx="3.6" ry="2.4"/>
<ellipse class="n" style="stroke-width:1.2" cx="201.3" cy="771.3" rx="1.8" ry="1.2"/>
<ellipse class="n" style="stroke-width:1.2" cx="292" cy="765" rx="1.6" ry="1.2"/>
</g>
<g id="e3_14">
<!-- 14 diaphragm -->
<path class="p" style="stroke-width:1.8" d="M171 702Q172 700 178.7 699.5Q186 698 194 692.7L200.8 690.2Q200.5 687 202.5 685Q205 682 209.3 680.8Q216 679.3 224.6 680L228 678.3L241.6 670.6Q246 668 250.1 668Q255 667.8 258.6 668.9L313 701.2Q318.5 704 318.1 706.3Q318 709 316.4 711.4L256.9 743.7Q252 746.3 248.4 746.2Q244 746 239.9 744.6L171 704.6Z"/>
<ellipse class="p" cx="192" cy="707.2" rx="4.6" ry="2.6"/>
<ellipse class="p" cx="252.1" cy="674.5" rx="4.6" ry="2.6"/>
<ellipse class="p" cx="307" cy="706.8" rx="4.8" ry="2.8"/>
<ellipse class="p" cx="246.7" cy="739.1" rx="4.8" ry="2.8"/>
<ellipse class="p" cx="279" cy="709.4" rx="3.7" ry="2.3"/>
<ellipse class="b" cx="202.5" cy="714.5" rx="2" ry="1.4"/>
<ellipse class="b" cx="293.5" cy="708.9" rx="1.8" ry="1.3"/>
<path class="t" d="M216.1 699.5Q208 697.5 202.5 698.7L205.9 707.2L209 709"/>
<path class="k" style="stroke-width:2.8" d="M211.4 709.7Q206 706.5 209.3 703Q212 699.5 216.5 699.3Q221 699.5 224.6 703.6"/>
<path class="t" d="M277 692Q262 690.5 252.6 693.6Q248 695.5 248.4 697.2Q250 700 255.2 700.4Q260 701 263 699"/>
<path class="k" style="stroke-width:2.8" d="M270.7 704.8Q262 701 263.5 697.5Q265 693.5 271 692.2Q278 691.2 285.2 697"/>
</g>
<g id="e4_13">
<!-- 13 screen -->
<path class="p" style="stroke-width:1.4" d="M196.5 661.3L196.5 664Q197 669 203 671Q210.5 672.8 218 671Q224 669 224.5 664L224.5 661.3Z"/>
<ellipse class="p" style="stroke-width:1.4" cx="210.5" cy="661.3" rx="14" ry="7.6"/>
<ellipse class="t" cx="210.5" cy="661.5" rx="12" ry="6.2"/>
<path class="t" style="stroke-width:.8" d="M200 659L208 656M201 663L214 657M204 666L219 659M209 667.5L222 661.5M215 667.5L221 665M203 658L216 667M207 656.5L220 665M212 656L222 663M200 661.5L209 667.5M198.5 664.5L198.5 667M201 666.5L201 669.5M204 668.5L204 671M207 669.3L207 672M210.5 669.6L210.5 672.5M214 669.3L214 672M217 668.5L217 671M220 666.5L220 669.5M222.5 664.5L222.5 667"/>
</g>
<g id="e5_17">
<!-- 17 screw -->
<path class="p" d="M178.7 874Q178.5 870 184 868.5L193 868.5Q198.5 870 198.3 874L198.3 879Q198 882.5 188.6 883Q179 882.5 178.7 879Z"/>
<path class="n" d="M178.7 874.5Q180 878.5 188.6 878.8Q197 878.5 198.3 874.5M180.5 871Q182 874.5 188.6 874.8Q195 874.5 196.5 871"/>
<path class="p" d="M185.5 871L185.5 851Q186 848.2 189.3 848Q192.7 848.2 193.2 851L193.2 871Q189.3 873.5 185.5 871Z"/>
<path class="t" d="M185.5 852.5L193.2 851.5M185.5 854.7L193.2 853.7M185.5 856.9L193.2 855.9M185.5 859.1L193.2 858.1M185.5 861.3L193.2 860.3M185.5 863.5L193.2 862.5M185.5 865.7L193.2 864.7M185.5 867.9L193.2 866.9M185.5 870.1L193.2 869.1M191 850L191 870"/>
</g>
<g id="f25">
<!-- 25 idle screw -->
<path class="p" d="M456 654.4Q450.5 655 450 661Q449.5 665 452.5 666.5L472 678.4L483.2 691.2L504 704Q508 705.5 510.4 704.8Q515 703.5 516.8 699.2Q518.5 696 517.6 692.8L518.4 686.4L494.4 671.2L480 668.8L475.2 669.6Z"/>
<path class="k" d="M451.2 665.8L472 678.4L483.2 691.2L504 704Q508 705.5 510.4 704.8"/>
<path class="t" d="M458.5 655.6Q453.5 660 455 668M461 657Q456 661.5 457.5 669.5M463.5 658.4Q458.5 663 460 671M466 659.8Q461 664.5 462.5 672.5M468.5 661.2Q463.5 666 465 674M471 662.6Q466 667.5 467.5 675.5M473.5 664Q468.5 669 470 677M475.5 666Q471 670.5 472.5 678.5"/>
<path class="n" d="M476 669.5Q472.5 674 474 679.5"/>
<path class="t" d="M486.4 672Q482 680 484.5 690.5M502.4 678Q496 685 497 694"/>
<path class="n" d="M496 692.8L499.2 696.5L518 688.5M499.2 696.5L501 703M502.4 696.2L516 690.8M504 699L517 693.5M504 699Q503 702 506 703.5"/>
<path class="t" d="M506 683L513 687"/>
</g>
<g id="f26">
<!-- 26 spring -->
<path class="n" style="stroke-width:1.5" d="M523.4 722.6L524.6 722.5L526.0 722.1L527.4 721.4L528.8 720.5L530.1 719.2L531.4 717.9L532.4 716.4L533.2 714.9L533.8 713.5L534.0 712.2L534.0 711.1L533.7 710.3L533.2 709.9L532.4 709.7L531.4 709.9L530.3 710.5L529.2 711.4L528.0 712.5L526.9 713.9L525.9 715.5L525.1 717.1L524.6 718.8L524.3 720.4L524.3 721.9L524.5 723.1L525.1 724.1L525.9 724.8L526.9 725.1L528.2 725.1L529.5 724.7L530.9 724.0L532.3 723.0L533.7 721.8L534.9 720.4L535.9 718.9L536.8 717.5L537.3 716.0L537.6 714.8L537.6 713.7L537.3 712.9L536.7 712.4L535.9 712.3L535.0 712.5L533.9 713.0L532.7 713.9L531.5 715.1L530.4 716.5L529.5 718.0L528.7 719.7L528.1 721.4L527.8 723.0L527.8 724.4L528.1 725.7L528.6 726.7L529.4 727.3L530.5 727.6L531.7 727.6L533.1 727.2L534.5 726.5L535.9 725.6L537.2 724.3L538.5 723.0L539.5 721.5L540.3 720.0L540.9 718.6L541.1 717.3L541.1 716.2L540.8 715.4L540.3 715.0L539.5 714.8L538.5 715.0L537.4 715.6L536.2 716.5L535.1 717.6L534.0 719.0L533.0 720.6L532.2 722.2L531.7 723.9L531.4 725.5L531.3 727.0L531.6 728.2L532.2 729.2L533.0 729.9L534.0 730.2L535.3 730.2L536.6 729.8L538.0 729.1L539.4 728.1L540.8 726.9L542.0 725.5L543.0 724.0L543.9 722.5L544.4 721.1L544.7 719.9L544.7 718.8L544.4 718.0L543.8 717.5L543.0 717.4L542.0 717.6L541.0 718.1L539.8 719.0L538.6 720.2L537.5 721.6L536.6 723.1L535.8 724.8L535.2 726.5L534.9 728.1L534.9 729.5L535.2 730.8L535.7 731.7L536.5 732.4L537.6 732.7L538.8 732.7L540.1 732.3L541.6 731.6L543.0 730.6L544.3 729.4L545.5 728.1L546.6 726.6L547.4 725.1L548.0 723.7L548.2 722.4L548.2 721.3L547.9 720.5L547.4 720.0L546.6 719.9L545.6 720.1L544.5 720.7L543.3 721.6L542.2 722.7L541.1 724.1L540.1 725.7L539.3 727.3L538.8 729.0L538.5 730.6L538.4 732.1L538.7 733.3L539.3 734.3L540.1 735.0L541.1 735.3L542.3 735.3L543.7 734.9L545.1 734.2L546.5 733.2L547.9 732.0L549.1 730.6L550.1 729.1L550.9 727.6L551.5 726.2L551.8 724.9L551.8 723.9L551.5 723.1L550.9 722.6L550.1 722.4"/>
<path class="n" style="stroke-width:1.5" d="M520.6 708.5Q522 712 520.5 716Q519 721 523 723.5M541 738.5Q545 740.5 547 737.5Q548.5 735 552 736.8"/>
</g>
<g id="f27">
<!-- 27 shaft -->
<path class="p" d="M554 742.4Q553.5 738.5 558 736.8Q561 736 563.6 736.8L581.2 752L581.6 754.5L584.4 756.8L620.4 785.6L623.6 786.4L663.6 816L654 826.4L555.6 748.8Z"/>
<path class="k" style="stroke-width:3" d="M555.6 748.8L654 826.8"/>
<path class="t" d="M557.5 737.5Q555.5 741 557.5 746.5M560 737Q558 741 560 748M562.5 737Q560.5 741.5 562.5 749.5"/>
<circle class="n" style="stroke-width:1.2" cx="582.5" cy="754.3" r="1.3"/>
<ellipse class="n" style="stroke-width:1.2" cx="595.6" cy="776.6" rx="2" ry="1.5"/>
<!-- lever -->
<path class="kp" d="M659.6 798.4L662 797.6L681.2 813.6L682 816L669.2 852.8Q666 857 662 858.4L652.4 858.4Q647 857 646 853.6Q645.5 850 647.6 847.2L637.2 850.4L634 848.8L633.2 842.4L635.6 838.4L654 828.8L665.2 817.6L673.2 814.4L658.8 801.6Z"/>
<path class="t" d="M673.2 814.4L679 815.5M665.2 819Q660 824 656 830.5L638 840.5"/>
<ellipse class="n" cx="666.8" cy="830.4" rx="3.2" ry="5.4" transform="rotate(18 666.8 830.4)"/>
<path class="n" d="M647.6 847.2Q650 842.5 655 841.5Q661 840.5 664 845Q665.5 849.5 661 852.5Q657 854.5 653 852"/>
<path class="n" d="M655 841.5L657.5 846.5L655 849L660 850.5M660.5 842L659 846.5L663 848.5"/>
</g>
<g id="f30">
<!-- 30 spring -->
<path class="n" style="stroke-width:1.5" d="M416.8 716.7L418.3 716.7L419.9 716.3L421.6 715.5L423.3 714.4L424.9 713.0L426.5 711.4L427.8 709.7L428.8 708.0L429.6 706.3L430.0 704.8L430.0 703.6L429.7 702.6L429.1 702.0L428.2 701.9L427.1 702.1L425.8 702.7L424.4 703.7L422.9 705.1L421.6 706.7L420.3 708.5L419.3 710.5L418.6 712.4L418.1 714.3L418.0 716.0L418.2 717.5L418.8 718.7L419.7 719.5L420.9 719.9L422.4 719.9L424.0 719.5L425.6 718.7L427.4 717.6L429.0 716.2L430.5 714.6L431.9 712.9L432.9 711.1L433.6 709.5L434.1 708.0L434.1 706.7L433.8 705.8L433.2 705.2L432.3 705.0L431.1 705.2L429.8 705.9L428.4 706.9L427.0 708.3L425.6 709.9L424.4 711.7L423.4 713.6L422.6 715.6L422.2 717.5L422.1 719.2L422.3 720.7L422.9 721.8L423.8 722.7L425.0 723.1L426.4 723.1L428.0 722.7L429.7 721.9L431.4 720.7L433.1 719.3L434.6 717.7L435.9 716.0L437.0 714.3L437.7 712.6L438.1 711.1L438.2 709.9L437.9 708.9L437.3 708.4L436.4 708.2L435.2 708.4L433.9 709.1L432.5 710.1L431.1 711.4L429.7 713.0L428.5 714.9L427.5 716.8L426.7 718.8L426.3 720.6L426.2 722.4L426.4 723.8L427.0 725.0L427.9 725.8L429.1 726.2L430.5 726.2L432.1 725.8L433.8 725.0L435.5 723.9L437.2 722.5L438.7 720.9L440.0 719.2L441.1 717.5L441.8 715.8L442.2 714.3L442.3 713.1L442.0 712.1L441.4 711.5L440.5 711.4L439.3 711.6L438.0 712.2L436.6 713.2L435.2 714.6L433.8 716.2L432.6 718.0L431.6 720.0L430.8 721.9L430.4 723.8L430.2 725.5L430.5 727.0L431.1 728.2L432.0 729.0L433.2 729.4L434.6 729.4L436.2 729.0L437.9 728.2L439.6 727.1L441.3 725.7L442.8 724.1L444.1 722.4L445.2 720.6L445.9 719.0L446.3 717.5L446.4 716.2L446.1 715.3L445.4 714.7L444.5 714.5L443.4 714.7L442.1 715.4L440.7 716.4L439.3 717.8L437.9 719.4L436.7 721.2L435.6 723.1L434.9 725.1L434.4 727.0L434.3 728.7L434.6 730.2L435.1 731.3L436.1 732.2L437.3 732.6L438.7 732.6L440.3 732.2L442.0 731.4L443.7 730.2L445.4 728.8L446.9 727.2L448.2 725.5L449.2 723.8L450.0 722.1L450.4 720.6L450.4 719.4L450.1 718.4L449.5 717.9L448.6 717.7L447.5 717.9L446.2 718.6L444.8 719.6L443.3 720.9L442.0 722.5L440.8 724.4L439.7 726.3L439.0 728.3L438.5 730.1L438.4 731.9L438.6 733.3L439.2 734.5L440.1 735.3L441.3 735.7"/>
<path class="n" style="stroke-width:1.5" d="M416.5 713.5L414.4 717L418 718.5M414.4 717Q416 712 420 710M441 734Q437 736.5 436.5 735Q437 733 440 733.5"/>
</g>
<g id="f31">
<!-- 31 shaft -->
<path class="p" d="M452 737.6Q452 733 457.6 731.2Q461 730.5 464 732L561.6 808L552 818.4L516 791.2L515.2 788.8L478.4 760L474.4 759.2L452.8 742.4Z"/>
<path class="k" style="stroke-width:3" d="M452.8 742.4L474.4 759.2L478.4 760.2L515.2 788.8M516 791.2L552 818.4"/>
<path class="n" d="M474.4 759.2Q475 753 478.4 751.2Q480 750.5 481 752M515.2 788.8L521.6 781.6"/>
<path class="t" d="M480.5 751.5L521.6 781.6M458 732Q455 736 457 742.5M461 731.5Q458 735.5 460 744"/>
<circle class="n" style="stroke-width:1.6" cx="500.5" cy="771.2" r="2.2"/>
<!-- lever plate -->
<path class="kp" d="M561.6 808Q566 806 569.6 807.2Q576 809 576 814Q576.5 820 574.4 824Q570 830.5 561.6 835.2L556 838L550.4 838.4L546 845L543.2 841.6Q542.5 838 544 835.2L552 822.4L558.4 812.8Z"/>
<path class="t" d="M563.5 810.5Q558.5 815 554.5 822L547 836"/>
<path class="n" d="M565.8 815.8Q568 816.5 569.6 820.5L566.2 829Q563.5 829 561.4 825Z"/>
<!-- pin in front -->
<path class="p" d="M550.4 838.4Q552 836 554 836.5L569.6 846Q572.5 848.5 571 852Q568.5 856 563.2 855.2L545.5 845.5Q545.5 842 550.4 838.4Z"/>
<path class="k" style="stroke-width:3" d="M563.2 855.2L545.5 845.5"/>
<ellipse class="t" cx="567" cy="850.8" rx="2.6" ry="4.2" transform="rotate(25 567 850.8)"/>
</g>
<g id="g2x">
<!-- 23 o-rings -->
<ellipse class="n" style="stroke-width:2.5" cx="368.4" cy="565" rx="3.7" ry="5.8" transform="rotate(38 368.4 565)"/>
<ellipse class="n" style="stroke-width:2.5" cx="357.4" cy="583.6" rx="3.7" ry="5.8" transform="rotate(38 357.4 583.6)"/>
<path class="ld" d="M337 605.6Q345 603 348.5 598.5Q351 594 353.5 590"/>
<!-- 21 needle -->
<g id="n21">
<path class="p" d="M375.8 569.2L381.2 569.2L395.6 577L392.6 581.2L378.8 573.4Z"/>
<path class="b" d="M375 568.4L379 569L378.8 573.4Z"/>
<path class="p" d="M395.6 575.8L411.2 585.4L408.8 592L391.4 582.4Z"/>
<path class="n" style="stroke-width:1.5" d="M397.6 577L394.4 584M400 578.5L396.8 585.4M402.4 580L399.2 586.8M404.8 581.4L401.6 588.2M407.2 582.9L404 589.6M409.6 584.4L406.4 591"/>
<path class="k" d="M391.4 582.4L408.8 592"/>
</g>
<g id="nhead">
<path class="kp" d="M411.2 585.6Q414 585 417.2 587.2L434 596.2Q436 597.5 435.2 600L434 602.8Q432.5 605.5 430.4 606.4L426.8 606.4L410 596.2Q408 594 408.8 591.5Z"/>
<path class="n" d="M417.2 587.4Q413.5 591.5 415.5 599.5"/>
<path class="k" d="M420 591.5L433.5 598.8M419 595L431.5 601.8M418.5 598.5L429 604.2"/>
<path class="t" d="M421 589.5L434 596.6"/>
<path class="kp" style="stroke-width:1.8" d="M420.8 599.8L434.5 600.3L433.5 603.5L426.5 605.8Z"/>
</g>
<!-- 22 needle -->
<path class="p" d="M368 587.8L392 600.4L388.4 606.4L366.8 592Z"/>
<path class="b" d="M364.8 587.6L369 587.8L367.2 592.2Z"/>
<path class="n" style="stroke-width:1.5" d="M371 589.4L368.8 593.4M373.5 590.7L370.6 595.6M376 592L372.8 597.6M378.5 593.3L375.2 599.2M381 594.6L377.6 600.8M383.5 595.9L380 602.4M386 597.2L382.6 604M388.5 598.5L385 605.4M391 599.8L387.4 606"/>
<path class="k" d="M366.8 592L388.4 606.4"/>
<g transform="translate(-21 13.4)">
<path class="kp" d="M411.2 585.6Q414 585 417.2 587.2L434 596.2Q436 597.5 435.2 600L434 602.8Q432.5 605.5 430.4 606.4L426.8 606.4L410 596.2Q408 594 408.8 591.5Z"/>
<path class="n" d="M417.2 587.4Q413.5 591.5 415.5 599.5"/>
<path class="k" d="M420 591.5L433.5 598.8M419 595L431.5 601.8M418.5 598.5L429 604.2"/>
<path class="t" d="M421 589.5L434 596.6"/>
<path class="kp" style="stroke-width:1.8" d="M420.8 599.8L434.5 600.3L433.5 603.5L426.5 605.8Z"/>
</g>
<!-- 24 sleeves -->
<g id="s24">
<path class="p" d="M441.2 600.4Q435.5 603 435.8 607.5Q435.5 611 437 613.6L454.4 624.4Q457 626 458 625.6Q463 623.5 464 620.8Q466 616 465.2 613.6Q464.5 610.5 461.6 609.4L445 600.2Q443 599.5 441.2 600.4Z"/>
<path class="k" d="M437 613.6L454.4 624.4Q457 626 458 625.6"/>
<ellipse class="n" style="stroke-width:2.6" cx="459.6" cy="617.4" rx="4" ry="7" transform="rotate(30 459.6 617.4)"/>
<circle class="n" style="stroke-width:1.2" cx="459.4" cy="618" r="1.4"/>
<path class="t" d="M456 612.5Q453.5 617 455.5 622.5"/>
</g>
<g transform="translate(-22.2 12.6)">
<path class="p" d="M441.2 600.4Q435.5 603 435.8 607.5Q435.5 611 437 613.6L454.4 624.4Q457 626 458 625.6Q463 623.5 464 620.8Q466 616 465.2 613.6Q464.5 610.5 461.6 609.4L445 600.2Q443 599.5 441.2 600.4Z"/>
<path class="k" d="M437 613.6L454.4 624.4Q457 626 458 625.6"/>
<ellipse class="n" style="stroke-width:2.6" cx="459.6" cy="617.4" rx="4" ry="7" transform="rotate(30 459.6 617.4)"/>
<circle class="n" style="stroke-width:1.2" cx="459.4" cy="618" r="1.4"/>
<path class="t" d="M456 612.5Q453.5 617 455.5 622.5"/>
</g>
</g>
<g id="h_small1">
<!-- 6 screw -->
<path class="p" d="M205.2 344L205.6 353.5Q209.5 356 213.4 353.5L213.7 344Z"/>
<path class="n" style="stroke-width:1.4" d="M205.4 347.5L213.6 346.5M205.5 350L213.5 349M205.6 352.5L213.4 351.5"/>
<path class="kp" d="M201.2 339.5Q201 335 205 333.5Q209 332.2 213.5 333.2Q217.5 335 217.3 339.5Q217 343.5 213.5 345Q209 346.3 204.5 345Q201.5 343.5 201.2 339.5Z"/>
<path class="k" d="M206 342.3L212.7 336.2"/>
<path class="n" style="stroke-width:1.3" d="M204.5 338Q205 335.5 208 335"/>
<!-- 12 screw -->
<path class="p" d="M309.6 149L309.8 161Q313.6 163.5 317.4 161L317.6 149Z"/>
<path class="n" style="stroke-width:1.3" d="M309.7 152.5L317.5 151.5M309.7 155L317.5 154M309.8 157.5L317.4 156.5M309.8 160L317.4 159"/>
<path class="kp" d="M305.8 143.5Q305.6 140 309.5 139Q313.6 138.3 318 139Q321.6 140.2 321.5 143.5L321.5 147.5Q321 150.5 313.6 150.8Q306 150.5 305.8 147.5Z"/>
<path class="n" style="stroke-width:1.3" d="M305.9 144Q307 146.8 313.6 147Q320 146.8 321.4 144M309 141.5Q312 140 316 141L318 143.5Q314 145 310.5 144ZM311.5 142.5L315.5 143.5"/>
<!-- 5 lever -->
<path class="p" d="M232.2 360.3L245.2 355.8L247.8 359L249.8 364.9L253 365.5L255 364L258.2 366L257.8 369.6L255 369L253 372.7L247.8 370L232.2 365.5Z"/>
<path class="p" d="M219.9 359L225 355.8L230.9 357L231.5 359L227.5 358.5L226 360.5L232.2 360.3L232.2 363.5L222.5 362Z"/>
<path class="p" d="M222 364.5L232.2 362L234 365.5L228 370.5L224 371.5Q221 370 222 364.5Z"/>
<ellipse class="p" cx="225" cy="368.6" rx="3" ry="3.3"/>
<path class="k" d="M232.2 365.5L247.8 370L253 372.7"/>
<circle class="b" cx="241.3" cy="362.3" r="1.4"/>
<!-- 4 pin -->
<path class="p" d="M181.5 394.8L216.6 375.9Q219 375.5 219.6 378Q220 380 219.2 380.5L183.5 400Q181 400.5 180.4 398Q180 395.5 181.5 394.8Z"/>
<path class="k" d="M183.5 400L219.2 380.5"/>
<ellipse class="n" style="stroke-width:1.4" cx="182.2" cy="397.5" rx="1.7" ry="2.6" transform="rotate(-20 182.2 397.5)"/>
<!-- 2 needle valve -->
<path class="p" d="M223.3 382Q223.5 380.3 226.3 380.3Q229.3 380.3 229.6 382L229 389L231.6 391L231.6 413L225.9 420.8L220.5 413.6L220.5 391L223.8 389Z"/>
<path class="k" d="M220.5 391L220.5 413.6L225.9 420.8"/>
<path class="t" d="M223.3 382.2Q226.3 384 229.6 382.2M223.8 389Q226.5 390.5 229 389M220.5 391.5Q226 394.5 231.6 391.5M224.6 395L224.6 412.5M227.2 395L227.2 412.5M220.5 413.6Q226 416 231.6 413"/>
<path class="n" style="stroke-width:1.3" d="M225 383.5L225 389.5"/>
<!-- 3 spring -->
<path class="p" style="stroke-width:1.5" d="M236.5 381Q236.5 378.6 241 378.6Q245.6 378.6 245.6 381L245.6 393Q245.6 395.6 241 395.6Q236.5 395.6 236.5 393Z"/>
<path class="k" style="stroke-width:1.7" d="M236.7 381.5Q241 384 245.4 381.5M236.7 384.2Q241 386.7 245.4 384.2M236.7 386.9Q241 389.4 245.4 386.9M236.7 389.6Q241 392.1 245.4 389.6M236.7 392.3Q241 394.8 245.4 392.3"/>
<!-- 7 plug -->
<path class="p" d="M249.4 404.5L249.4 416.5Q250 421.5 258.5 421.8Q267 421.5 267.6 416.5L267.6 404.5Z"/>
<ellipse class="p" cx="258.5" cy="404.5" rx="9.1" ry="5.4"/>
<path class="n" style="stroke-width:1.5" d="M249.4 406.5Q251 411.5 258.5 411.7Q266 411.5 267.6 406.5"/>
<path class="t" d="M249.4 409Q251 414 258.5 414.2Q266 414 267.6 409M255 408.5L262 408.3M255 416.5L263 416.2"/>
<path class="k" d="M267.6 407L267.6 416.5"/>
<!-- 1 inlet screw -->
<path class="p" d="M233.4 432Q233.5 429 239.5 428.7Q245.5 429 245.8 432L245.5 438L243.5 442Q239.5 444.5 235.5 442L233.6 438Z"/>
<path class="k" style="stroke-width:1.8" d="M233.8 433Q239.5 436 245.6 433M233.8 436Q239.5 439 245.6 436M234.5 439Q239.5 442 245 439M236 441.5Q239.5 443.5 243.5 441.5"/>
<path class="k" style="stroke-width:1.6" d="M236.5 430.5L243 431M239.5 429.5L239.5 432.5"/>
<path class="k" d="M233.6 432L233.8 438L235.5 442"/>
<!-- 8 disc -->
<path class="p" d="M258.2 440.3L258.4 443.5Q259.5 449 272.2 451Q285 449 286.2 443.5L286.2 440.3Z"/>
<ellipse class="p" cx="272.2" cy="440.3" rx="14" ry="8"/>
</g>
<g id="i_small2">
<!-- 29 screw -->
<path class="p" d="M94.2 384.3L104.1 393.3Q106 396 104 398.5Q102 401 100.5 400.5L89.7 393.3Z"/>
<path class="n" style="stroke-width:1.3" d="M96 386L92 394.5M98 387.8L94 396M100 389.6L96 397.5M102 391.4L98 399M104 393.3L100.2 400.3"/>
<path class="kp" d="M80 385Q79 381.5 83 379.5Q87 377.5 91.5 378.5Q95.5 380 96 384Q97 388.5 94.5 391.5Q91.5 394.5 87 394.3Q82 393.5 80.5 390Z"/>
<path class="n" style="stroke-width:1.4" d="M84 382.5Q87.5 380.5 91.5 382.5M85 386.5L91.5 385M88 383L88.5 389.5M83.5 389.5Q87 391.5 92 389.5"/>
<!-- 28 plate -->
<path class="kp" d="M112.2 393.3Q113.5 390.8 115.8 390.6Q118.5 391 119.4 394.2L123 386.1Q125 384 127.5 384.3Q130.5 384.8 131.1 387L130.2 399.6L125.7 414Q122 419 115.8 420.3Q111.5 420.5 110.4 417.6L109.5 410.4Z"/>
<path class="kp" d="M119.4 394.2L120.3 398.7L124.8 395.1L126.6 387"/>
<path class="w" d="M120.8 392L125 386.5L128.5 386.5L126 394.5L120.8 397.5Z"/>
<path class="k" d="M119.4 394.2L120.3 398.7L124.8 395.1L126.2 388"/>
<ellipse class="n" style="stroke-width:2.3" cx="119.4" cy="411.3" rx="2.3" ry="3.3" transform="rotate(25 119.4 411.3)"/>
<!-- 32 e-clip -->
<path class="p" d="M150.9 502.2Q151 497 153.6 493.2Q157 488.5 160.8 487.8Q165 487 167.1 488.7Q169.5 491 168.9 493.2Q167.5 496 164.4 495.9Q163.5 494.5 162.6 492.3Q160 492.5 158.1 495Q157.5 497.5 158.1 499.5Q159 500.8 160.8 501.3Q161 503.5 159.9 504.9Q157 506.5 153.6 505.8Q151.5 504.5 150.9 502.2Z"/>
<!-- 18 choke plate -->
<g id="pl18">
<ellipse class="p" style="stroke-width:1.7" cx="0" cy="0" rx="30.7" ry="19.6" transform="translate(427.6 440.6) rotate(60)"/>
<path class="t" d="M435 420Q449 438 449 458"/>
<ellipse class="n" style="stroke-width:1.5" cx="426.6" cy="441" rx="3" ry="4.2" transform="rotate(-20 426.6 441)"/>
<path class="n" style="stroke-width:1.2" d="M425.5 438.5L427.8 443.5"/>
<path class="n" style="stroke-width:1.5" d="M411.6 442.6Q415.5 441.5 417.8 446.6M433.8 455.8Q437.5 454.5 439.8 459.8"/>
</g>
<path class="w" d="M416.5 410.5L420 410.5L420 413.5L416.5 413.5Z"/>
<path class="n" style="stroke-width:1.5" d="M416 412.6L417.8 413.8L419.2 412"/>
<!-- 20 screw upper -->
<path class="p" d="M457 418.5L468 414.5L470 421L459.5 426.5Q456 426 455.3 423Q455 420 457 418.5Z"/>
<path class="n" style="stroke-width:1.3" d="M459 418L461 425.5M461.5 417L463.5 424.5M464 416L466 423M466.5 415L468.5 422"/>
<path class="kp" d="M463 415Q463 411 467 409.8Q471 409 474.5 411Q477.5 413.5 477.5 418Q477.5 423 474 425.5Q470.5 427.5 467.5 426L470 421L468 414.5Z"/>
<path class="t" d="M472 410.5Q475.5 414 475 420Q474 424 471.5 426.5"/>
<!-- 19 choke plate -->
<g transform="translate(-324.4 180.6)">
<ellipse class="p" style="stroke-width:1.7" cx="0" cy="0" rx="30.7" ry="19.6" transform="translate(427.6 440.6) rotate(60)"/>
<path class="t" d="M435 420Q449 438 449 458"/>
<ellipse class="n" style="stroke-width:1.5" cx="426.6" cy="441" rx="3" ry="4.2" transform="rotate(-20 426.6 441)"/>
<path class="n" style="stroke-width:1.2" d="M425.5 438.5L427.8 443.5"/>
<path class="n" style="stroke-width:1.5" d="M411.6 442.6Q415.5 441.5 417.8 446.6M433.8 455.8Q437.5 454.5 439.8 459.8"/>
</g>
<path class="w" d="M100.5 591L105 592L106 596L100.5 594ZM111 595L116 599.5L113 602L109.5 597Z"/>
<path class="n" style="stroke-width:1.5" d="M100.5 592.5Q102.5 594.5 105.5 593.5M111.5 596.5Q112 599.5 115 600.5"/>
<!-- 20 screw lower -->
<path class="p" d="M72 634L79 631.5Q82 632 82.2 635Q82.3 638 80 640L74 642.5Z"/>
<path class="t" d="M78.5 632Q77.5 636 79 640"/>
<path class="kp" d="M60 641Q59.5 636 62.5 633Q66 630 70 630.5Q73 631 74.5 634Q77.5 639 76.5 643.5Q75 648 70.5 649.5Q65.5 650 62.5 647.5Q60.5 645 60 641Z"/>
<path class="t" d="M63.5 634.5Q66.5 640 66 648.5M66.5 632.5L69 636.5M64 640.5L70 638.5M64.5 644L71.5 642"/>
</g>
<g id="j_small3">
<!-- 36 disc -->
<path class="p" d="M702.6 169.4L702.8 171.5Q704 177.5 716.4 179.5Q729 177.5 730.2 171.5L730.2 169.4Z"/>
<ellipse class="p" cx="716.4" cy="169.4" rx="13.8" ry="8.2"/>
<!-- 35 plug -->
<path class="kp" d="M674.8 167L675.2 171.5Q674.5 173 675 174L675.3 178Q676.5 182 682.6 182.3Q689 182 690.2 178L690.3 174Q690.8 173 690.3 171.5L690.4 167Z"/>
<ellipse class="kp" cx="682.6" cy="167" rx="7.8" ry="4.6"/>
<path class="n" style="stroke-width:1.5" d="M675.2 171.5Q677 175 682.6 175.2Q688.5 175 690.3 171.5M675.3 174.5Q677 178 682.6 178.2Q688.5 178 690.3 174.5"/>
<path class="k" d="M681 166.3L684.5 166.3"/>
<!-- 33 small cylinder -->
<path class="p" d="M198.8 612L207.5 608.6Q211 608.8 212 612.5Q212.8 616.5 210.5 619.8L200 624.5Q196 624.8 194.2 620.5Q193 615 198.8 612Z"/>
<ellipse class="n" style="stroke-width:1.6" cx="198.4" cy="618.2" rx="4" ry="6.2" transform="rotate(18 198.4 618.2)"/>
<!-- 37,38 screw -->
<path class="p" d="M795 315L798 314L804 315L836.4 333L843.6 333.6L882 355.8L882.6 363.6L880.2 368.4L874.8 370.8L868.8 368.4L834 348L830.4 342L801.6 325.2L798 320.4Z"/>
<path class="k" d="M795 315L798 320.4L801.6 325.2L830.4 342L834 348L868.8 368.4L874.8 370.8"/>
<path class="n" style="stroke-width:1.4" d="M798.5 314.2Q801.5 316.5 799.5 321.5M806.5 316.5Q803 321 805 327M810 318.5Q806.5 323 808.5 329M813.5 320.5Q810 325 812 331M817 322.5Q813.5 327 815.5 333M820.5 324.5Q817 329 819 335M824 326.5Q820.5 331 822.5 337M827.5 328.5Q824 333 826 339M831 330.5Q827.5 335 829.5 341M835.5 332.5Q831.5 337.5 833 344M838 333Q834 338 835.5 345.5"/>
<path class="n" d="M868.8 362.4L880.8 358.2M868.8 362.4L868.8 368.4M871.5 365L881.5 361.5M871.5 365L872 369.5"/>
<path class="t" d="M873.5 356.5L878 354.5M875 368L880 365"/>
</g>
<g class="ld" id="leaders">
<path d="M326 145L352.5 131"/>
<path d="M329 179.5L352.5 167"/>
<path d="M325 236L352.5 222.5"/>
<path d="M328 297L352.5 284"/>
<path d="M174 321L197.5 334"/>
<path d="M174 351L200 365.5L219 365.5"/>
<path d="M174 379.5L187 386"/>
<path d="M297.5 358L250 385"/>
<path d="M297.5 394L271 408"/>
<path d="M299.5 424L286 431"/>
<path d="M201 420.5L214.5 414"/>
<path d="M201 457L228 442.5"/>
<path d="M57 404L76 392"/>
<path d="M95 429L109 419.5"/>
<path d="M124 520L150 505.5"/>
<path d="M54.5 597L76 608.75"/>
<path d="M23.75 613.75L55.5 632.5"/>
<path d="M176.75 601.25L196 610.75"/>
<path d="M176.75 642.5L196 653"/>
<path d="M177 676.5L196 686"/>
<path d="M145.5 729.5L178 748"/>
<path d="M145.5 796L178 814.5"/>
<path d="M144.5 844.5L179.5 863"/>
<path d="M478.75 425L520.5 448"/>
<path d="M452.5 454.5L482.5 471.25"/>
<path d="M376.25 558.75L399.5 546.25"/>
<path d="M422.5 583.75L443.75 572.5"/>
<path d="M460 606.25L482.5 594.25"/>
<path d="M367 623L388.75 611.25"/>
<path d="M401.25 643.75L418.25 633.75"/>
<path d="M503 670L524.5 658.75"/>
<path d="M410.75 737.25L428 729"/>
<path d="M552 717L574.25 705"/>
<path d="M606 767.8L632.3 753.5"/>
<path d="M458 788.8L487.75 772"/>
<path d="M731.25 162.7L751.5 152.2"/>
<path d="M651.8 188.25L674.2 176"/>
<path d="M855.5 336L880 323"/>
<path d="M880.3 640L916.7 620.8"/>
</g>
<g class="lb" id="labels">
<text transform="translate(355 130.2) scale(.95 1)">12</text>
<text transform="translate(355 166.2) scale(.95 1)">11</text>
<text transform="translate(355 220.5) scale(.95 1)">10</text>
<text transform="translate(354.5 282.5) scale(.95 1)">9</text>
<text transform="translate(158.5 318.7) scale(.95 1)">6</text>
<text transform="translate(158.5 348) scale(.95 1)">5</text>
<text transform="translate(158.5 379) scale(.95 1)">4</text>
<text transform="translate(301 356) scale(.95 1)">3</text>
<text transform="translate(302 390.5) scale(.95 1)">7</text>
<text transform="translate(302 422.5) scale(.95 1)">8</text>
<text transform="translate(186 427.5) scale(.95 1)">2</text>
<text transform="translate(186.5 464) scale(.95 1)">1</text>
<text transform="translate(30 414.2) scale(.95 1)">29</text>
<text transform="translate(68.6 439.3) scale(.95 1)">28</text>
<text transform="translate(96.5 528.2) scale(.95 1)">32</text>
<text transform="translate(30 595.6) scale(.95 1)">19</text>
<text transform="translate(-1 613.4) scale(.95 1)">20</text>
<text transform="translate(152 600) scale(.95 1)">33</text>
<text transform="translate(152.5 642.4) scale(.95 1)">13</text>
<text transform="translate(153.5 674.4) scale(.95 1)">14</text>
<text transform="translate(120 728.5) scale(.95 1)">15</text>
<text transform="translate(120 794.3) scale(.95 1)">16</text>
<text transform="translate(120 844.8) scale(.95 1)">17</text>
<text transform="translate(526 456.2) scale(.95 1)">20</text>
<text transform="translate(487.5 477.6) scale(.95 1)">18</text>
<text transform="translate(401.5 545.25) scale(.95 1)">23</text>
<text transform="translate(445.5 570.75) scale(.95 1)">21</text>
<text transform="translate(485.5 593.25) scale(.95 1)">24</text>
<text transform="translate(310.5 614.5) scale(.95 1)">23</text>
<text transform="translate(342 631.25) scale(.95 1)">22</text>
<text transform="translate(376.5 650) scale(.95 1)">24</text>
<text transform="translate(526 656.75) scale(.95 1)">25</text>
<text transform="translate(384.5 745.5) scale(.95 1)">30</text>
<text transform="translate(579 703.75) scale(.95 1)">26</text>
<text transform="translate(635.5 750.3) scale(.95 1)">27</text>
<text transform="translate(430.5 797.5) scale(.95 1)">31</text>
<text transform="translate(754 151.5) scale(.95 1)">36</text>
<text transform="translate(624.5 198.75) scale(.95 1)">35</text>
<text transform="translate(884.5 321.25) scale(.95 1)">37,38</text>
<text transform="translate(918 619) scale(.95 1)">34</text>
</g>
<text transform="translate(999.2 884.8) rotate(-90) scale(.9 1)" style="font-family:'Liberation Sans',sans-serif;font-weight:bold;font-size:11.5px;fill:#000">137ET071 SC</text>
</svg>
</body>
</html>
